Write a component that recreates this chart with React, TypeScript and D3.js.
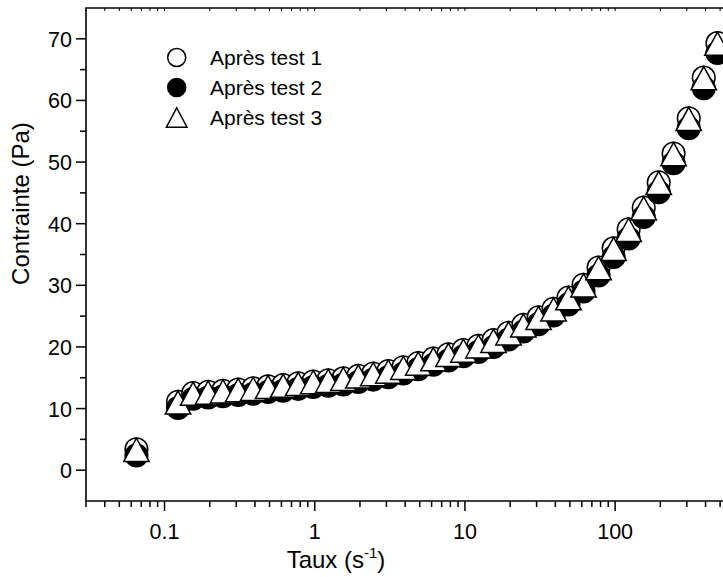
import React from "react";
import * as d3 from "d3";

// ---- data ----
const shearRate = [
  0.065, 0.123, 0.155, 0.195, 0.245, 0.309, 0.389, 0.489, 0.616, 0.776, 0.977,
  1.23, 1.55, 1.95, 2.45, 3.09, 3.89, 4.89, 6.16, 7.76, 9.77,
  12.3, 15.5, 19.5, 24.5, 30.9, 38.9, 48.9, 61.6, 77.6, 97.7,
  123, 155, 195, 245, 309, 389, 480,
];
const test1 = [
  3.4, 11.1, 12.5, 12.7, 12.9, 13.1, 13.3, 13.6, 13.8, 14.1, 14.4,
  14.6, 14.9, 15.3, 15.7, 16.1, 16.7, 17.4, 18.1, 18.8, 19.5,
  20.2, 21.1, 22.3, 23.6, 24.8, 26.2, 28.0, 30.1, 32.9, 36.0,
  39.1, 42.6, 46.7, 51.4, 57.1, 63.7, 69.3,
];
const test2 = [
  2.4, 10.1, 11.6, 11.8, 12.0, 12.2, 12.4, 12.7, 12.9, 13.2, 13.5,
  13.7, 13.9, 14.3, 14.7, 15.1, 15.7, 16.4, 17.1, 17.8, 18.5,
  19.2, 20.0, 21.2, 22.5, 23.7, 25.1, 26.9, 29.0, 31.6, 34.6,
  37.6, 41.1, 45.1, 49.8, 55.5, 62.0, 67.7,
];
const test3 = [
  3.3, 11.0, 12.4, 12.6, 12.8, 13.0, 13.2, 13.5, 13.7, 14.0, 14.3,
  14.5, 14.8, 15.2, 15.6, 16.0, 16.6, 17.3, 18.0, 18.7, 19.4,
  20.1, 21.0, 22.2, 23.5, 24.7, 26.1, 27.9, 30.0, 32.8, 35.9,
  39.0, 42.5, 46.6, 51.3, 57.0, 63.6, 69.2,
];
const seriesNames = ["Après test 1", "Après test 2", "Après test 3"];
const xMajorTicks = [0.1, 1, 10, 100];
const xMajorLabels = ["0.1", "1", "10", "100"];
const yMajorTicks = [0, 10, 20, 30, 40, 50, 60, 70];
const yMajorLabels = ["0", "10", "20", "30", "40", "50", "60", "70"];
const yMinorTicks = [5, 15, 25, 35, 45, 55, 65];
const xTitle = "Taux (s";
const xTitleSup = "-1";
const yTitle = "Contrainte (Pa)";

// ---- layout ----
const W = 723;
const H = 577;
const left = 86;
const top = 8;
const bottom = 501;
const perDecade = 150.2;
const FONT = "'Liberation Sans', Arial, Helvetica, sans-serif";

const x = d3
  .scaleLog()
  .domain([0.03, 1000])
  .range([left, left + Math.log10(1000 / 0.03) * perDecade]);
const y = d3.scaleLinear().domain([-5, 75]).range([bottom, top]);

const R = 11.3; // marker circle radius
const TH = 11.6; // triangle half-height
const TW = 12.7; // triangle half-base

function triPath(cx: number, cy: number, hw: number, hh: number) {
  return `M${cx},${cy - hh}L${cx + hw},${cy + hh}L${cx - hw},${cy + hh}Z`;
}

export default function App() {
  const xMinor = x
    .ticks()
    .filter((t) => !xMajorTicks.some((m) => Math.abs(m - t) / m < 1e-6) && Math.abs(t - 1000) > 1e-6);
  const xRight = W + 5;
  return (
    <svg
      width={W}
      height={H}
      style={{ position: "absolute", left: 0, top: 0, background: "#fff" }}
      fontFamily={FONT}
    >
      <rect x={0} y={0} width={W} height={H} fill="#fff" />
      {/* series 1: open circles */}
      <g>
        {shearRate.map((r, i) => (
          <circle
            key={"a" + i}
            cx={x(r)}
            cy={y(test1[i])}
            r={R}
            fill="#fff"
            stroke="#000"
            strokeWidth={1.5}
          />
        ))}
      </g>
      {/* series 2: filled circles */}
      <g>
        {shearRate.map((r, i) => (
          <circle
            key={"b" + i}
            cx={x(r)}
            cy={y(test2[i])}
            r={R}
            fill="#000"
            stroke="#000"
            strokeWidth={1.5}
          />
        ))}
      </g>
      {/* series 3: triangles */}
      <g>
        {shearRate.map((r, i) => (
          <path
            key={"c" + i}
            d={triPath(x(r), y(test3[i]), TW, TH)}
            fill="#fff"
            stroke="#000"
            strokeWidth={1.5}
            strokeLinejoin="miter"
          />
        ))}
      </g>

      {/* axes frame */}
      <line x1={left} y1={top} x2={left} y2={bottom} stroke="#000" strokeWidth={1.6} />
      <line x1={left - 0.8} y1={bottom} x2={xRight} y2={bottom} stroke="#000" strokeWidth={1.6} />
      <line x1={left - 0.8} y1={top} x2={xRight} y2={top} stroke="#000" strokeWidth={1.6} />

      {/* x ticks bottom */}
      {xMajorTicks.map((t, i) => (
        <g key={"xm" + i}>
          <line x1={x(t)} x2={x(t)} y1={bottom} y2={bottom + 10} stroke="#000" strokeWidth={1.5} />
          <text x={x(t)} y={539} textAnchor="middle" fontSize={21.5}>
            {xMajorLabels[i]}
          </text>
        </g>
      ))}
      {xMinor.map((t, i) => (
        <line key={"xn" + i} x1={x(t)} x2={x(t)} y1={bottom} y2={bottom + 6} stroke="#000" strokeWidth={1.5} />
      ))}
      {/* x ticks top (small, inward) */}
      {[...xMajorTicks, ...xMinor].map((t, i) => (
        <line key={"xt" + i} x1={x(t)} x2={x(t)} y1={top} y2={top + 3} stroke="#000" strokeWidth={1} />
      ))}

      {/* y ticks */}
      {yMajorTicks.map((t, i) => (
        <g key={"ym" + i}>
          <line x1={left - 10} x2={left} y1={y(t)} y2={y(t)} stroke="#000" strokeWidth={1.5} />
          <text x={72} y={y(t) + 8} textAnchor="end" fontSize={21.5}>
            {yMajorLabels[i]}
          </text>
        </g>
      ))}
      {yMinorTicks.map((t, i) => (
        <line key={"yn" + i} x1={left - 6} x2={left} y1={y(t)} y2={y(t)} stroke="#000" strokeWidth={1.5} />
      ))}

      {/* axis titles */}
      <text x={336} y={568} textAnchor="middle" fontSize={24}>
        {xTitle}
        <tspan fontSize={15} dy={-10}>
          {xTitleSup}
        </tspan>
        <tspan dy={10}>)</tspan>
      </text>
      <text
        transform={`translate(29,${203.5}) rotate(-90)`}
        textAnchor="middle"
        fontSize={24}
      >
        {yTitle}
      </text>

      {/* legend */}
      <g>
        <circle cx={176.7} cy={57.5} r={9} fill="#fff" stroke="#000" strokeWidth={1.5} />
        <text x={210} y={65} fontSize={21}>{seriesNames[0]}</text>
        <circle cx={176.7} cy={87.5} r={9} fill="#000" stroke="#000" strokeWidth={1.5} />
        <text x={210} y={95} fontSize={21}>{seriesNames[1]}</text>
        <path d={triPath(176.7, 117.5, 10.3, 9.7)} fill="#fff" stroke="#000" strokeWidth={1.5} />
        <text x={210} y={125} fontSize={21}>{seriesNames[2]}</text>
      </g>
    </svg>
  );
}
